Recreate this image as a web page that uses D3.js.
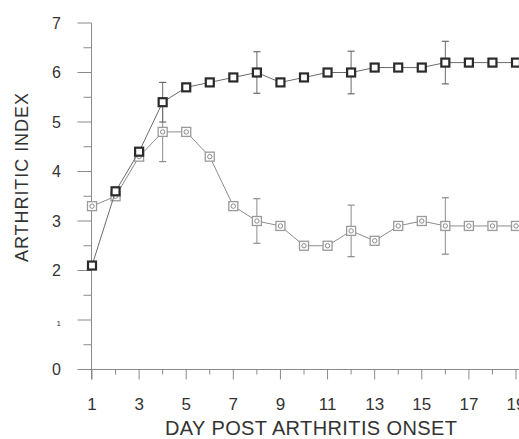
<!DOCTYPE html>
<html>
<head>
<meta charset="utf-8">
<script src="https://cdn.jsdelivr.net/npm/d3@7"></script>
<style>
  html, body { margin: 0; padding: 0; background: #fff; }
  svg text { font-family: "Liberation Sans", Arial, sans-serif; fill: #333; }
</style>
</head>
<body>
<div id="chart"></div>
<script>
// days post onset
const days = [1, 2, 3, 4, 5, 6, 7, 8, 9, 10, 11, 12, 13, 14, 15, 16, 17, 18, 19];

// dark square series
const darkValues = [2.1, 3.6, 4.4, 5.4, 5.7, 5.8, 5.9, 6.0, 5.8, 5.9, 6.0, 6.0, 6.1, 6.1, 6.1, 6.2, 6.2, 6.2, 6.2];
const darkErrDays = [4, 8, 12, 16];
const darkErr = [0.4, 0.42, 0.43, 0.43];

// light circle-in-square series
const lightValues = [3.3, 3.5, 4.3, 4.8, 4.8, 4.3, 3.3, 3.0, 2.9, 2.5, 2.5, 2.8, 2.6, 2.9, 3.0, 2.9, 2.9, 2.9, 2.9];
const lightErrDays = [4, 8, 12, 16];
const lightErr = [0.6, 0.45, 0.52, 0.57];

const yTicks = [0, 1, 2, 3, 4, 5, 6, 7];
const yTickLabels = ['0', '1', '2', '3', '4', '5', '6', '7'];
const xTickLabels = ['1', '3', '5', '7', '9', '11', '13', '15', '17', '19'];

const width = 519;
const height = 439;

const svg = d3.select('#chart')
  .append('svg')
  .attr('width', width)
  .attr('height', height);

const x = d3.scaleLinear().domain([1, 19]).range([92, 516]);
const y = d3.scaleLinear().domain([0, 7]).range([369.5, 23]);
const axisX = 91.5;

// axes
const axisColor = '#8a8a8a';

// y axis line
svg.append('line')
  .attr('x1', axisX).attr('x2', axisX)
  .attr('y1', y(7)).attr('y2', y(0) + 10)
  .attr('stroke', axisColor).attr('stroke-width', 1);

// x axis line
svg.append('line')
  .attr('x1', 78).attr('x2', width)
  .attr('y1', y(0)).attr('y2', y(0))
  .attr('stroke', axisColor).attr('stroke-width', 1);

// y ticks: major every 1, minor every 0.5
const yMinor = d3.range(0.5, 7, 1);
svg.append('g').selectAll('line.major')
  .data(yTicks)
  .enter()
  .append('line')
  .attr('x1', axisX - 14).attr('x2', axisX)
  .attr('y1', d => y(d)).attr('y2', d => y(d))
  .attr('stroke', axisColor);
svg.append('g').selectAll('line.minor')
  .data(yMinor)
  .enter()
  .append('line')
  .attr('x1', axisX - 8).attr('x2', axisX)
  .attr('y1', d => y(d)).attr('y2', d => y(d))
  .attr('stroke', axisColor);

svg.append('g').selectAll('text')
  .data(yTicks)
  .enter()
  .append('text')
  .attr('x', 61)
  .attr('y', d => y(d) + 5.5)
  .attr('text-anchor', 'end')
  .style('font-family', '"Liberation Sans Narrow", "Liberation Sans", sans-serif')
  .style('font-size', (d, i) => (yTickLabels[i] === '1' ? '8px' : '16px'))
  .text((d, i) => yTickLabels[i]);

// x ticks
svg.append('g').selectAll('line')
  .data(days)
  .enter()
  .append('line')
  .attr('x1', d => x(d)).attr('x2', d => x(d))
  .attr('y1', y(0)).attr('y2', d => (d % 2 === 1 ? y(0) + 10 : y(0) + 5))
  .attr('stroke', axisColor);

svg.append('g').selectAll('text')
  .data(xTickLabels)
  .enter()
  .append('text')
  .attr('x', d => x(+d))
  .attr('y', 410)
  .attr('text-anchor', 'middle')
  .style('font-family', '"Liberation Sans Narrow", "Liberation Sans", sans-serif')
  .style('font-size', '17px')
  .text(d => d);

// titles
svg.append('text')
  .attr('x', 165)
  .attr('y', 435)
  .attr('textLength', 292)
  .attr('lengthAdjust', 'spacing')
  .style('font-size', '20px')
  .text('DAY POST ARTHRITIS ONSET');

svg.append('text')
  .attr('transform', 'translate(28, 262) rotate(-90)')
  .attr('x', 0)
  .attr('y', 0)
  .attr('textLength', 169)
  .attr('lengthAdjust', 'spacing')
  .style('font-size', '18px')
  .text('ARTHRITIC INDEX');

// series
const lightData = days.map((d, i) => ({ day: d, v: lightValues[i] }));
const darkData = days.map((d, i) => ({ day: d, v: darkValues[i] }));

const line = d3.line().x(d => x(d.day)).y(d => y(d.v));

function errorBars(errDays, errs, values, color) {
  const g = svg.append('g');
  errDays.forEach((d, i) => {
    const v = values[days.indexOf(d)];
    const top = y(v + errs[i]);
    const bot = y(v - errs[i]);
    g.append('line')
      .attr('x1', x(d)).attr('x2', x(d))
      .attr('y1', top).attr('y2', bot)
      .attr('stroke', color).attr('stroke-width', 1);
    [top, bot].forEach(yy => {
      g.append('line')
        .attr('x1', x(d) - 3.5).attr('x2', x(d) + 3.5)
        .attr('y1', yy).attr('y2', yy)
        .attr('stroke', color).attr('stroke-width', 1.2);
    });
  });
}

// light series
svg.append('path')
  .datum(lightData)
  .attr('d', line)
  .attr('fill', 'none')
  .attr('stroke', '#8c8c8c')
  .attr('stroke-width', 1);
errorBars(lightErrDays, lightErr, lightValues, '#8c8c8c');

const lightMarks = svg.append('g').selectAll('g')
  .data(lightData)
  .enter()
  .append('g')
  .attr('transform', d => `translate(${x(d.day)}, ${y(d.v)})`);
lightMarks.append('rect')
  .attr('x', -4.5).attr('y', -4.5)
  .attr('width', 9).attr('height', 9)
  .attr('fill', '#fff')
  .attr('stroke', '#9a9a9a')
  .attr('stroke-width', 1.3);
lightMarks.append('circle')
  .attr('r', 2.2)
  .attr('fill', 'none')
  .attr('stroke', '#8a8a8a')
  .attr('stroke-width', 1);

// dark series
svg.append('path')
  .datum(darkData)
  .attr('d', line)
  .attr('fill', 'none')
  .attr('stroke', '#6a6a6a')
  .attr('stroke-width', 1);
errorBars(darkErrDays, darkErr, darkValues, '#6a6a6a');

svg.append('g').selectAll('rect')
  .data(darkData)
  .enter()
  .append('rect')
  .attr('x', d => x(d.day) - 4)
  .attr('y', d => y(d.v) - 4)
  .attr('width', 8).attr('height', 8)
  .attr('fill', '#fff')
  .attr('stroke', '#2a2a2a')
  .attr('stroke-width', 2.2);
</script>
</body>
</html>
